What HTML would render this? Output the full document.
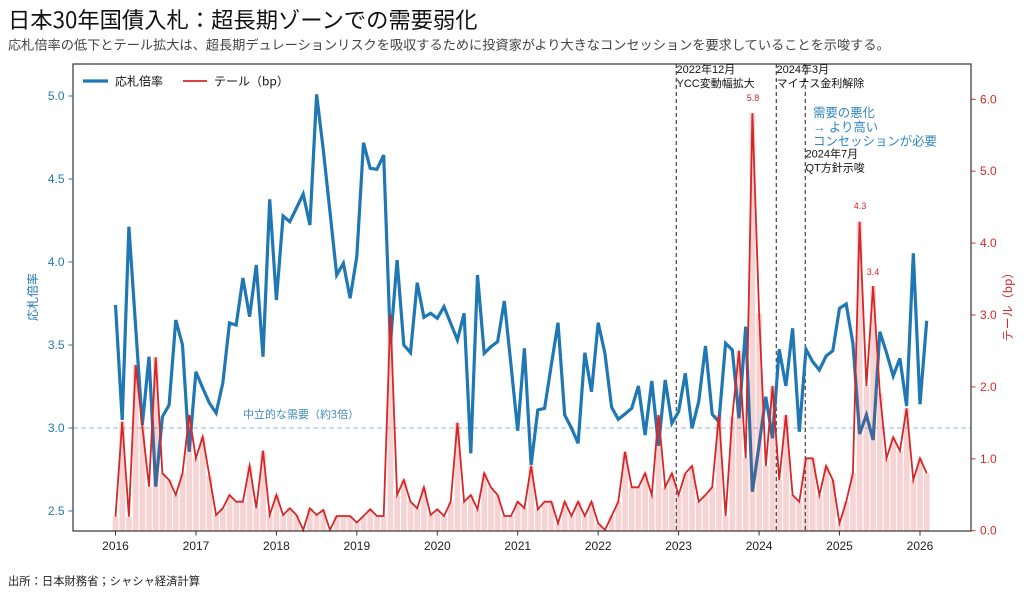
<!DOCTYPE html>
<html>
<head>
<meta charset="utf-8">
<style>
  html,body{margin:0;padding:0;background:#fff;}
  body{width:1024px;height:597px;overflow:hidden;}
  svg{display:block;}
  text{font-family:"Liberation Sans","Noto Sans CJK JP",sans-serif;}
  .cjk{font-family:"Noto Sans CJK JP","Liberation Sans",sans-serif;}
</style>
</head>
<body>
<svg width="1024" height="597" viewBox="0 0 1024 597" xmlns="http://www.w3.org/2000/svg">
  <rect width="1024" height="597" fill="#fff"/>

  <!-- Title & subtitle -->
  <text class="cjk" x="8" y="28" font-size="22.3" fill="#111">日本30年国債入札：超長期ゾーンでの需要弱化</text>
  <text class="cjk" x="8" y="49.5" font-size="13.2" fill="#444">応札倍率の低下とテール拡大は、超長期デュレーションリスクを吸収するために投資家がより大きなコンセッションを要求していることを示唆する。</text>

  <!-- neutral demand line -->
  <line x1="73" y1="428" x2="971" y2="428" stroke="#1f77b4" stroke-opacity="0.4" stroke-width="1.2" stroke-dasharray="5,3"/>
  <text class="cjk" x="243" y="418" font-size="11" fill="#1f77b4" fill-opacity="0.85">中立的な需要（約3倍）</text>

  <!-- vertical event lines -->
  <g stroke="#444" stroke-width="1.2" stroke-dasharray="4,3">
    <line x1="676.3" y1="64" x2="676.3" y2="531"/>
    <line x1="776.3" y1="64" x2="776.3" y2="531"/>
    <line x1="805.3" y1="64" x2="805.3" y2="531"/>
  </g>

  <!-- Blue: bid-to-cover -->
  <polyline fill="none" stroke="#1f77b4" stroke-width="3.2" stroke-linejoin="miter" stroke-miterlimit="4"
    points="115.5,305 122.2,420 128.9,226.7 135.6,326 142.3,425 149,356.7 155.7,486.7 162.4,416.7 169.1,405 175.8,320 182.5,345 189.2,451.7 195.9,371.7 202.7,388 209.4,403 216.1,413 222.8,383 229.5,323 236.2,325 242.9,278 249.6,316.7 256.3,265 263,356.7 269.7,199.3 276.4,300 283.1,216 289.8,221.7 296.5,208 303.2,194 309.9,225 316.6,94.3 323.3,150 330,212 336.7,275 343.4,263.3 350.1,298.3 356.8,256.7 363.5,142.7 370.2,168.3 376.9,169.3 383.7,155 390.4,343.3 397.1,260 403.8,345 410.5,352.7 417.2,282.7 423.9,317.3 430.6,313.3 437.3,318.3 444,306.7 450.7,323.3 457.4,340 464.1,313.3 470.8,453.3 477.5,275 484.2,353.3 490.9,346.7 497.6,341.7 504.3,301 511,365 517.7,430.7 524.4,348.3 531.1,465 537.8,410 544.6,408.3 551.3,365 558,322.7 564.7,415 571.4,428 578.1,443.3 584.8,352.7 591.5,391.7 598.2,322.7 604.9,353.3 611.6,407.3 618.3,419.3 625,414 631.7,408.3 638.4,386 645.1,435 651.8,381 658.5,445.7 665.2,380 671.9,423.3 678.6,411.7 685.3,373.3 692,428.3 698.7,401.7 705.5,346 712.2,414.3 718.9,421.7 725.6,343.3 732.3,350 739,418.3 745.7,326.7 752.4,491.7 759.1,445 765.8,396.7 772.5,438.3 779.2,349.3 785.9,386 792.6,328.3 799.3,431.7 806,349.3 812.7,361.7 819.4,370 826.1,356 832.8,350.7 839.5,308.3 846.2,304 852.9,343.3 859.6,434 866.4,415 873.1,440 879.8,331.7 886.5,352.7 893.2,376 899.9,358.3 906.6,406 913.3,253.3 920,404.3 926.7,320.7"/>

  <!-- Bars: tail -->
  <path fill="#d62728" fill-opacity="0.2" d="M112.6,531V516.7h5.7V531Z M119.4,531V421.7h5.7V531Z M126.1,531V516.7h5.7V531Z M132.8,531V365h5.7V531Z M139.5,531V426h5.7V531Z M146.2,531V486.7h5.7V531Z M152.9,531V357.3h5.7V531Z M159.6,531V473.3h5.7V531Z M166.3,531V480h5.7V531Z M173,531V495h5.7V531Z M179.7,531V473.3h5.7V531Z M186.4,531V415h5.7V531Z M193.1,531V458.3h5.7V531Z M199.9,531V436.7h5.7V531Z M206.6,531V476h5.7V531Z M213.3,531V515h5.7V531Z M220,531V508.3h5.7V531Z M226.7,531V495h5.7V531Z M233.4,531V501.7h5.7V531Z M240.1,531V501.7h5.7V531Z M246.8,531V465.7h5.7V531Z M253.5,531V508.3h5.7V531Z M260.2,531V450.7h5.7V531Z M266.9,531V515h5.7V531Z M273.6,531V495h5.7V531Z M280.3,531V515h5.7V531Z M287,531V508.3h5.7V531Z M293.7,531V515h5.7V531Z M300.4,531V530h5.7V531Z M307.1,531V508.3h5.7V531Z M313.8,531V515h5.7V531Z M320.5,531V510h5.7V531Z M327.2,531V530h5.7V531Z M333.9,531V516h5.7V531Z M340.6,531V516h5.7V531Z M347.3,531V516h5.7V531Z M354,531V522.5h5.7V531Z M360.7,531V516h5.7V531Z M367.4,531V509.3h5.7V531Z M374.1,531V516h5.7V531Z M380.9,531V516h5.7V531Z M387.6,531V315h5.7V531Z M394.3,531V495h5.7V531Z M401,531V480h5.7V531Z M407.7,531V501.7h5.7V531Z M414.4,531V508.3h5.7V531Z M421.1,531V487.3h5.7V531Z M427.8,531V515h5.7V531Z M434.5,531V509.3h5.7V531Z M441.2,531V516h5.7V531Z M447.9,531V501.7h5.7V531Z M454.6,531V422.7h5.7V531Z M461.3,531V501.7h5.7V531Z M468,531V495h5.7V531Z M474.7,531V509.3h5.7V531Z M481.4,531V473.3h5.7V531Z M488.1,531V487.3h5.7V531Z M494.8,531V495h5.7V531Z M501.5,531V516h5.7V531Z M508.2,531V516h5.7V531Z M514.9,531V501.7h5.7V531Z M521.6,531V508.3h5.7V531Z M528.3,531V466h5.7V531Z M535,531V509.3h5.7V531Z M541.8,531V501.7h5.7V531Z M548.5,531V501.7h5.7V531Z M555.2,531V523.3h5.7V531Z M561.9,531V501.7h5.7V531Z M568.6,531V516h5.7V531Z M575.3,531V501.7h5.7V531Z M582,531V516h5.7V531Z M588.7,531V501.7h5.7V531Z M595.4,531V523.3h5.7V531Z M602.1,531V530h5.7V531Z M608.8,531V516h5.7V531Z M615.5,531V501.7h5.7V531Z M622.2,531V451.7h5.7V531Z M628.9,531V487.3h5.7V531Z M635.6,531V487.3h5.7V531Z M642.3,531V473.3h5.7V531Z M649,531V495h5.7V531Z M655.7,531V415h5.7V531Z M662.4,531V487.3h5.7V531Z M669.1,531V473.3h5.7V531Z M675.8,531V495h5.7V531Z M682.5,531V473.3h5.7V531Z M689.2,531V466h5.7V531Z M695.9,531V501.7h5.7V531Z M702.7,531V495h5.7V531Z M709.4,531V487.3h5.7V531Z M716.1,531V415h5.7V531Z M722.8,531V516h5.7V531Z M729.5,531V416.7h5.7V531Z M736.2,531V350.7h5.7V531Z M742.9,531V458.3h5.7V531Z M749.6,531V113.3h5.7V531Z M756.3,531V313.3h5.7V531Z M763,531V466h5.7V531Z M769.7,531V386h5.7V531Z M776.4,531V480h5.7V531Z M783.1,531V415h5.7V531Z M789.8,531V495h5.7V531Z M796.5,531V501.7h5.7V531Z M803.2,531V458.3h5.7V531Z M809.9,531V458.3h5.7V531Z M816.6,531V495h5.7V531Z M823.3,531V466h5.7V531Z M830,531V480h5.7V531Z M836.7,531V523.3h5.7V531Z M843.4,531V501.7h5.7V531Z M850.1,531V473.3h5.7V531Z M856.8,531V221.7h5.7V531Z M863.6,531V386h5.7V531Z M870.3,531V286h5.7V531Z M877,531V392.7h5.7V531Z M883.7,531V458.3h5.7V531Z M890.4,531V437.3h5.7V531Z M897.1,531V450.7h5.7V531Z M903.8,531V408.3h5.7V531Z M910.5,531V480h5.7V531Z M917.2,531V458.3h5.7V531Z M923.9,531V473.3h5.7V531Z"/>

  <!-- Red: tail line -->
  <polyline fill="none" stroke="#d62728" stroke-width="1.8" stroke-linejoin="miter" stroke-miterlimit="6"
    points="115.5,516.7 122.2,421.7 128.9,516.7 135.6,365 142.3,426 149,486.7 155.7,357.3 162.4,473.3 169.1,480 175.8,495 182.5,473.3 189.2,415 195.9,458.3 202.7,436.7 209.4,476 216.1,515 222.8,508.3 229.5,495 236.2,501.7 242.9,501.7 249.6,465.7 256.3,508.3 263,450.7 269.7,515 276.4,495 283.1,515 289.8,508.3 296.5,515 303.2,530 309.9,508.3 316.6,515 323.3,510 330,530 336.7,516 343.4,516 350.1,516 356.8,522.5 363.5,516 370.2,509.3 376.9,516 383.7,516 390.4,315 397.1,495 403.8,480 410.5,501.7 417.2,508.3 423.9,487.3 430.6,515 437.3,509.3 444,516 450.7,501.7 457.4,422.7 464.1,501.7 470.8,495 477.5,509.3 484.2,473.3 490.9,487.3 497.6,495 504.3,516 511,516 517.7,501.7 524.4,508.3 531.1,466 537.8,509.3 544.6,501.7 551.3,501.7 558,523.3 564.7,501.7 571.4,516 578.1,501.7 584.8,516 591.5,501.7 598.2,523.3 604.9,530 611.6,516 618.3,501.7 625,451.7 631.7,487.3 638.4,487.3 645.1,473.3 651.8,495 658.5,415 665.2,487.3 671.9,473.3 678.6,495 685.3,473.3 692,466 698.7,501.7 705.5,495 712.2,487.3 718.9,415 725.6,516 732.3,416.7 739,350.7 745.7,458.3 752.4,113.3 759.1,313.3 765.8,466 772.5,386 779.2,480 785.9,415 792.6,495 799.3,501.7 806,458.3 812.7,458.3 819.4,495 826.1,466 832.8,480 839.5,523.3 846.2,501.7 852.9,473.3 859.6,221.7 866.4,386 873.1,286 879.8,392.7 886.5,458.3 893.2,437.3 899.9,450.7 906.6,408.3 913.3,480 920,458.3 926.7,473.3"/>

  <!-- Peak labels -->
  <g font-size="9" fill="#d62728" text-anchor="middle">
    <text x="753" y="101">5.8</text>
    <text x="860" y="209">4.3</text>
    <text x="873" y="275">3.4</text>
  </g>

  <!-- Event annotations -->
  <g class="cjk" font-size="11" fill="#111">
    <text x="676.5" y="73">2022年12月</text>
    <text x="676.5" y="87">YCC変動幅拡大</text>
    <text x="776.5" y="73">2024年3月</text>
    <text x="776.5" y="87">マイナス金利解除</text>
    <text x="805.5" y="157.5">2024年7月</text>
    <text x="805.5" y="171.5">QT方針示唆</text>
  </g>
  <g class="cjk" font-size="12.4" fill="#2f86c4">
    <text x="813" y="117">需要の悪化</text>
    <text x="813" y="131.3">→ より高い</text>
    <text x="813" y="145.6">コンセッションが必要</text>
  </g>

  <!-- Legend -->
  <line x1="83" y1="81" x2="108" y2="81" stroke="#1f77b4" stroke-width="3.2"/>
  <text class="cjk" x="115" y="85.5" font-size="12" fill="#111">応札倍率</text>
  <line x1="183" y1="81" x2="207" y2="81" stroke="#d62728" stroke-width="1.8"/>
  <text class="cjk" x="214" y="85.5" font-size="12" fill="#111">テール（bp）</text>

  <!-- Frame -->
  <rect x="73" y="64" width="898" height="467" fill="none" stroke="#333" stroke-width="1.2"/>

  <!-- Left axis ticks -->
  <g stroke="#1f77b4" stroke-width="1">
    <line x1="68.5" y1="96" x2="73" y2="96"/>
    <line x1="68.5" y1="179" x2="73" y2="179"/>
    <line x1="68.5" y1="262" x2="73" y2="262"/>
    <line x1="68.5" y1="345" x2="73" y2="345"/>
    <line x1="68.5" y1="428" x2="73" y2="428"/>
    <line x1="68.5" y1="511" x2="73" y2="511"/>
  </g>
  <g font-size="12" fill="#1f77b4" text-anchor="end">
    <text x="64.5" y="100">5.0</text>
    <text x="64.5" y="183">4.5</text>
    <text x="64.5" y="266">4.0</text>
    <text x="64.5" y="349">3.5</text>
    <text x="64.5" y="432">3.0</text>
    <text x="64.5" y="515">2.5</text>
  </g>
  <text class="cjk" transform="translate(37,297) rotate(-90)" font-size="12" fill="#1f77b4" text-anchor="middle">応札倍率</text>

  <!-- Right axis ticks -->
  <g stroke="#d62728" stroke-width="1">
    <line x1="971" y1="99.3" x2="975.5" y2="99.3"/>
    <line x1="971" y1="171.2" x2="975.5" y2="171.2"/>
    <line x1="971" y1="243.1" x2="975.5" y2="243.1"/>
    <line x1="971" y1="315" x2="975.5" y2="315"/>
    <line x1="971" y1="386.9" x2="975.5" y2="386.9"/>
    <line x1="971" y1="458.8" x2="975.5" y2="458.8"/>
    <line x1="971" y1="530.7" x2="975.5" y2="530.7"/>
  </g>
  <g font-size="12" fill="#d62728">
    <text x="980" y="103.3">6.0</text>
    <text x="980" y="175.2">5.0</text>
    <text x="980" y="247.1">4.0</text>
    <text x="980" y="319">3.0</text>
    <text x="980" y="390.9">2.0</text>
    <text x="980" y="462.8">1.0</text>
    <text x="980" y="534.7">0.0</text>
  </g>
  <text class="cjk" transform="translate(1012,304) rotate(-90)" font-size="12" fill="#d62728" text-anchor="middle">テール（bp）</text>

  <!-- Bottom axis ticks -->
  <g stroke="#333" stroke-width="1">
    <line x1="115.5" y1="531" x2="115.5" y2="535.5"/>
    <line x1="196" y1="531" x2="196" y2="535.5"/>
    <line x1="276.4" y1="531" x2="276.4" y2="535.5"/>
    <line x1="356.8" y1="531" x2="356.8" y2="535.5"/>
    <line x1="437.3" y1="531" x2="437.3" y2="535.5"/>
    <line x1="517.7" y1="531" x2="517.7" y2="535.5"/>
    <line x1="598.2" y1="531" x2="598.2" y2="535.5"/>
    <line x1="678.6" y1="531" x2="678.6" y2="535.5"/>
    <line x1="759.1" y1="531" x2="759.1" y2="535.5"/>
    <line x1="839.5" y1="531" x2="839.5" y2="535.5"/>
    <line x1="920" y1="531" x2="920" y2="535.5"/>
  </g>
  <g font-size="12" fill="#222" text-anchor="middle">
    <text x="115.5" y="550">2016</text>
    <text x="196" y="550">2017</text>
    <text x="276.4" y="550">2018</text>
    <text x="356.8" y="550">2019</text>
    <text x="437.3" y="550">2020</text>
    <text x="517.7" y="550">2021</text>
    <text x="598.2" y="550">2022</text>
    <text x="678.6" y="550">2023</text>
    <text x="759.1" y="550">2024</text>
    <text x="839.5" y="550">2025</text>
    <text x="920" y="550">2026</text>
  </g>

  <!-- Footer -->
  <text class="cjk" x="8" y="585" font-size="11.3" fill="#222">出所：日本財務省；シャシャ経済計算</text>
</svg>
</body>
</html>
